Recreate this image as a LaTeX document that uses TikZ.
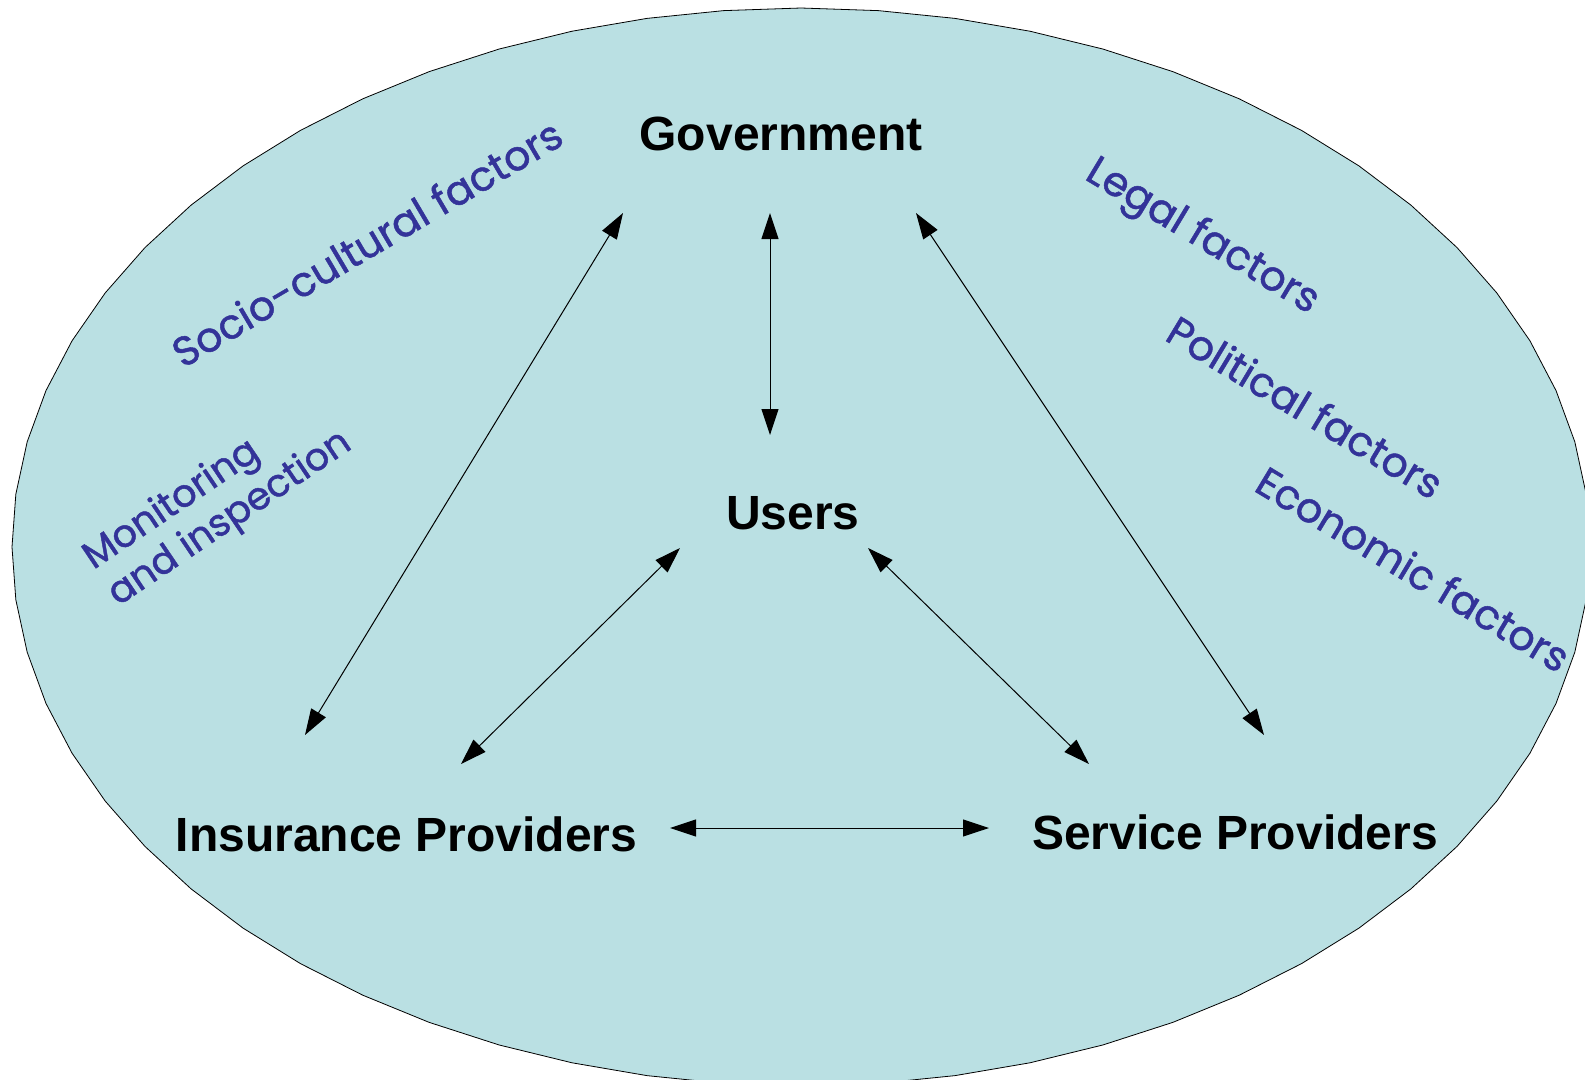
\documentclass[tikz,border=0pt]{standalone}
\usepackage{fontspec}
\setmainfont{Liberation Sans}
\newfontfamily\handfont[FakeBold=1.2]{Poppins}
\usetikzlibrary{arrows.meta}
\definecolor{ellfill}{RGB}{186,224,227}
\definecolor{factblue}{RGB}{51,51,153}
\begin{document}
\begin{tikzpicture}[x=1pt,y=-1pt,
  actor/.style={font={\fontsize{48}{56}\selectfont\bfseries}, inner sep=0pt, anchor=base},
  factor/.style={font={\handfont\fontsize{41}{45}\selectfont}, text=factblue, inner sep=0pt, anchor=base},
  link/.style={line width=1pt, {Triangle[length=26pt,width=17pt]}-{Triangle[length=26pt,width=17pt]}}]
\useasboundingbox (0,0) rectangle (1585,1079);
\begin{scope}
\clip (0,0) rectangle (1585,1079);
\draw[fill=ellfill, line width=0.8pt] plot[samples=65, domain=0:360] ({801+789*cos(\x)},{547+539*sin(\x)}) -- cycle;
\end{scope}
% actors
\node[actor] (gov) at (781,150) {Government};
\node[actor] (users) at (793,529) {Users};
\node[actor] (ins) at (406.5,851) {Insurance Providers};
\node[actor] (serv) at (1235,849) {Service Providers};
% connector ends
\coordinate (gI) at (623,213);
\coordinate (iG) at (305,735);
\coordinate (gU) at (770,213);
\coordinate (uG) at (770,435);
\coordinate (gS) at (916,213);
\coordinate (sG) at (1264,735);
\coordinate (uI) at (680,548);
\coordinate (iU) at (461,764);
\coordinate (uS) at (868,548);
\coordinate (sU) at (1089,764);
\coordinate (iS) at (670,828);
\coordinate (sI) at (989,828);
\draw[link] (gI) -- (iG);
\draw[link] (gU) -- (uG);
\draw[link] (gS) -- (sG);
\draw[link] (uI) -- (iU);
\draw[link] (uS) -- (sU);
\draw[link] (iS) -- (sI);
% factors
\node[factor, rotate=30.5] (socio) at (374.5,256) {Socio-cultural factors};
\node[factor, rotate=-31] (legal) at (1196.5,246.5) {Legal factors};
\node[factor, rotate=-31] (pol) at (1297.5,420) {Political factors};
\node[factor, rotate=-31] (econ) at (1405.5,582) {Economic factors};
\node[factor, font={\handfont\fontsize{38}{44}\selectfont}, rotate=34, anchor=center, align=left] (monit) at (218,501) {Monitoring\\and inspection};
\end{tikzpicture}
\end{document}
